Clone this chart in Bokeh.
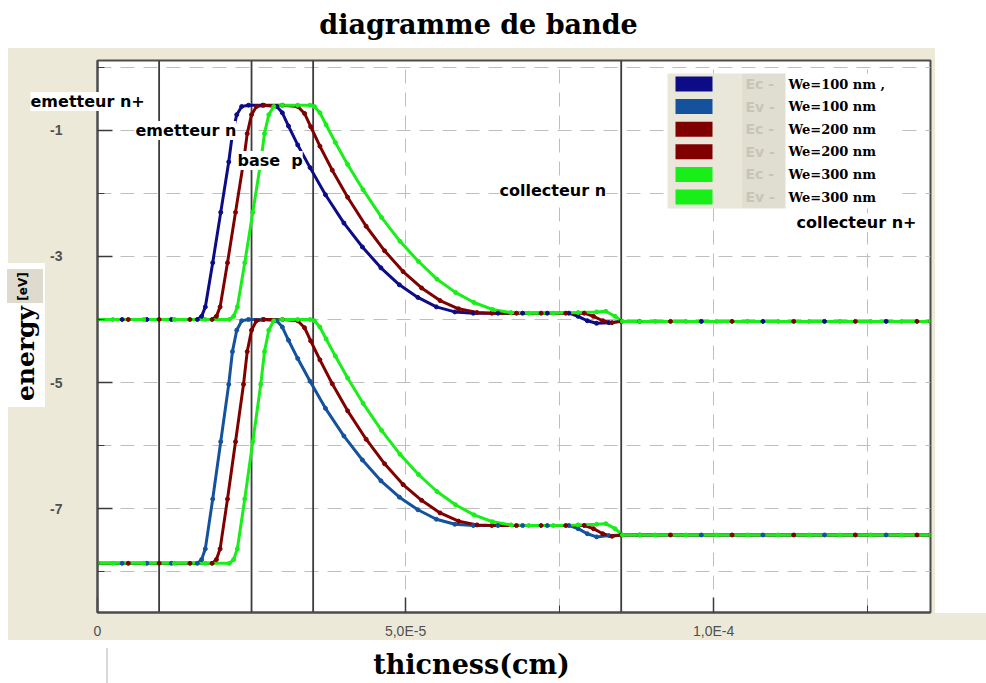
import numpy as np
from bokeh.plotting import figure
from bokeh.models import Range1d, FixedTicker, Span, Label, BoxAnnotation
from bokeh.embed import file_html
from bokeh.resources import INLINE

# ---------------- data ----------------
# thickness in nm (converted to cm for the axis), energies in eV
NM_TO_CM = 1e-7

region_bounds_nm = [100, 250, 350, 850]

x_ec_100 = [0, 40, 80, 120, 162, 169, 175, 187, 200, 213, 219, 226, 234, 245, 268,
            291, 300, 310, 325, 345, 370, 400, 430, 460, 490, 520, 550, 580, 610, 650,
            690, 730, 765, 780, 795, 810, 830, 850, 880, 980, 1080, 1180, 1280, 1352]
y_ec_100 = [-4.0, -4.0, -4.0, -4.0, -4.0, -3.95, -3.80, -3.10, -2.30, -1.50,
            -1.05, -0.75, -0.62, -0.60, -0.60, -0.62, -0.72, -0.93, -1.23, -1.59,
            -2.02, -2.47, -2.85, -3.18, -3.45, -3.65, -3.80, -3.88, -3.90, -3.90,
            -3.90, -3.90, -3.90, -3.95, -4.02, -4.06, -4.05, -4.03, -4.03, -4.03,
            -4.03, -4.03, -4.03, -4.03]
y_ev_100 = [-7.87, -7.87, -7.87, -7.87, -7.87, -7.81, -7.64, -6.85, -5.94, -5.03,
            -4.51, -4.17, -4.02, -4.00, -4.00, -4.02, -4.12, -4.33, -4.62, -4.98,
            -5.41, -5.85, -6.23, -6.56, -6.82, -7.02, -7.17, -7.25, -7.27, -7.27,
            -7.27, -7.27, -7.27, -7.32, -7.40, -7.45, -7.43, -7.42, -7.42, -7.42,
            -7.42, -7.42, -7.42, -7.42]

x_ec_200 = [0, 50, 100, 150, 186, 193, 199, 211, 224, 237, 243, 250, 258, 270, 300,
            325, 336, 346, 361, 381, 406, 436, 466, 496, 526, 556, 586, 616, 640, 680,
            720, 760, 790, 805, 820, 835, 850, 930, 1030, 1130, 1230, 1330, 1352]
y_ec_200 = [-4.0, -4.0, -4.0, -4.0, -4.0, -3.95, -3.80, -3.10, -2.30, -1.50,
            -1.05, -0.75, -0.62, -0.60, -0.60, -0.62, -0.73, -0.94, -1.25, -1.63,
            -2.06, -2.52, -2.91, -3.24, -3.50, -3.70, -3.83, -3.89, -3.90, -3.90,
            -3.90, -3.90, -3.90, -3.95, -4.02, -4.05, -4.03, -4.03, -4.03, -4.03,
            -4.03, -4.03, -4.03]
y_ev_200 = [-7.87, -7.87, -7.87, -7.87, -7.87, -7.81, -7.64, -6.85, -5.94, -5.03,
            -4.51, -4.17, -4.02, -4.00, -4.00, -4.02, -4.13, -4.34, -4.64, -5.02,
            -5.45, -5.90, -6.29, -6.62, -6.87, -7.07, -7.20, -7.26, -7.27, -7.27,
            -7.27, -7.27, -7.27, -7.32, -7.40, -7.44, -7.42, -7.42, -7.42, -7.42,
            -7.42, -7.42, -7.42]

x_ec_300 = [0, 25, 75, 125, 175, 214, 221, 227, 239, 252, 265, 271, 278, 286, 300,
            325, 345, 352, 361, 371, 386, 406, 431, 461, 491, 521, 551, 581, 611, 641,
            671, 700, 740, 780, 810, 825, 840, 852, 880, 905, 955, 1005, 1055, 1105,
            1155, 1205, 1255, 1305, 1352]
y_ec_300 = [-4.0, -4.0, -4.0, -4.0, -4.0, -4.0, -3.95, -3.80, -3.10, -2.30,
            -1.50, -1.05, -0.75, -0.62, -0.60, -0.60, -0.60, -0.62, -0.72, -0.91,
            -1.19, -1.54, -1.94, -2.38, -2.76, -3.08, -3.36, -3.57, -3.73, -3.84,
            -3.89, -3.90, -3.90, -3.89, -3.88, -3.87, -3.95, -4.03, -4.03, -4.03,
            -4.03, -4.03, -4.03, -4.03, -4.03, -4.03, -4.03, -4.03, -4.03]
y_ev_300 = [-7.87, -7.87, -7.87, -7.87, -7.87, -7.87, -7.81, -7.64, -6.85, -5.94,
            -5.03, -4.51, -4.17, -4.02, -4.00, -4.00, -4.00, -4.02, -4.12, -4.31,
            -4.58, -4.93, -5.33, -5.76, -6.14, -6.46, -6.73, -6.94, -7.10, -7.21,
            -7.26, -7.27, -7.27, -7.26, -7.25, -7.24, -7.32, -7.42, -7.42, -7.42,
            -7.42, -7.42, -7.42, -7.42, -7.42, -7.42, -7.42, -7.42, -7.42]

legend_band = ["Ec -", "Ev -", "Ec -", "Ev -", "Ec -", "Ev -"]
legend_width = ["We=100 nm ,", "We=100 nm", "We=200 nm", "We=200 nm", "We=300 nm", "We=300 nm"]

x_tick_values = [0, 5e-5, 1e-4]
x_tick_labels = ["0", "5,0E-5", "1,0E-4"]
x_minor_values = [2.5e-5, 7.5e-5, 1.25e-4]
y_tick_values = [-1, -3, -5, -7]
y_tick_labels = ["-1", "-3", "-5", "-7"]
y_minor_values = [0, -2, -4, -6, -8]

# ---------------- styling ----------------
BEIGE = "#ECE9D8"
COLORS = ["#0C0C86", "#15529E", "#800000", "#800000", "#18EE18", "#18EE18"]

series = [
    (x_ec_100, y_ec_100), (x_ec_100, y_ev_100),
    (x_ec_200, y_ec_200), (x_ec_200, y_ev_200),
    (x_ec_300, y_ec_300), (x_ec_300, y_ev_300),
]


def css_block(color, x, y, w, h):
    return f"linear-gradient({color},{color}) {x}px {y}px / {w}px {h}px no-repeat"


# panel shading behind the transparent border of the figure
page_background = ", ".join([
    css_block("#DEDBCE", 7, 269, 36, 34),    # unit box of the y label
    css_block("#FFFFFF", 7, 263, 38, 144),   # y label box
    css_block(BEIGE, 8, 48, 927, 592),       # main panel
    css_block(BEIGE, 935, 613, 51, 27),      # panel foot
    css_block("#D8D8D8", 106, 648, 2, 35),
    "#FFFFFF",
])

p = figure(width=986, height=683, output_backend="svg", toolbar_location=None,
           x_range=Range1d(0, 1352 * NM_TO_CM), y_range=Range1d(-8.65, 0.11),
           min_border_left=97, min_border_right=56, min_border_top=60,
           min_border_bottom=71, border_fill_color=None,
           background_fill_color="white", outline_line_color="#4d4d4d",
           outline_line_width=2)
p.styles = {"background": page_background}

# axes
for ax in (p.xaxis, p.yaxis):
    ax.axis_line_color = "#4d4d4d"
    ax.axis_line_width = 2
    ax.major_tick_in = 15
    ax.major_tick_out = 0
    ax.minor_tick_in = 7
    ax.minor_tick_out = 0
    ax.major_tick_line_color = "#3a3a3a"
    ax.minor_tick_line_color = "#3a3a3a"
    ax.major_tick_line_width = 1.5
    ax.major_label_text_font = "Liberation Sans"
    ax.major_label_text_font_size = "14px"
    ax.major_label_text_color = "#505050"

p.xaxis.ticker = FixedTicker(ticks=x_tick_values, minor_ticks=x_minor_values)
p.xaxis.major_label_overrides = dict(zip(x_tick_values, x_tick_labels))
p.xaxis.major_label_standoff = 10
p.yaxis.ticker = FixedTicker(ticks=y_tick_values, minor_ticks=y_minor_values)
p.yaxis.major_label_overrides = dict(zip(y_tick_values, y_tick_labels))
p.yaxis.major_label_standoff = 35
p.yaxis.major_label_text_font_style = "bold"

p.xgrid.ticker = FixedTicker(ticks=sorted(x_tick_values + x_minor_values))
p.ygrid.ticker = FixedTicker(ticks=sorted(y_tick_values + y_minor_values))
for g in (p.xgrid, p.ygrid):
    g.grid_line_color = "#BEBEBE"
    g.grid_line_dash = "14 9"
    g.grid_line_width = 1

# region boundaries
for b in region_bounds_nm:
    p.add_layout(Span(location=b * NM_TO_CM, dimension="height",
                      line_color="#3c3c3c", line_width=1.8, level="underlay"))

# band edges
for (xs, ys), c in zip(series, COLORS):
    p.line(np.array(xs) * NM_TO_CM, ys, line_color=c, line_width=3)
for (xs, ys), c in zip(series, COLORS):
    p.scatter(np.array(xs) * NM_TO_CM, ys, size=4, color=c)


def canvas_box(l, r, t, b, color, level="annotation"):
    p.add_layout(BoxAnnotation(left=l, right=r, top=t, bottom=b,
                               left_units="canvas", right_units="canvas",
                               top_units="canvas", bottom_units="canvas",
                               fill_color=color, fill_alpha=1.0,
                               line_color=None, level=level))


def canvas_text(text, x, y, size, font="DejaVu Sans", style="bold", color="black",
                align="left", bg=None, angle=0.0, place=None):
    lab = Label(x=x, y=y, x_units="canvas", y_units="canvas", text=text,
                text_font=font, text_font_size=f"{size}px",
                text_font_style=style, text_color=color, text_align=align,
                text_baseline="middle", background_fill_color=bg, angle=angle)
    if place is None:
        p.add_layout(lab)
    else:
        p.add_layout(lab, place)


# titles (kept in the side panels so they are not clipped to the frame)
canvas_text("diagramme de bande", 478, 24, 27, font="DejaVu Serif", align="center",
            place="above")
canvas_text("thicness(cm)", 471, 664, 27, font="DejaVu Serif", align="center",
            place="below")
canvas_text("energy", 25, 353, 25, font="DejaVu Serif", align="center",
            angle=np.pi / 2, place="left")
canvas_text("[eV]", 22, 286, 12, align="center", angle=np.pi / 2, place="right")

# region names
canvas_text("emetteur n+", 30, 101, 16, bg="white", place="above")
canvas_text("emetteur n", 135, 130, 16, bg="white")
canvas_text("base\u00a0\u00a0p", 237, 160, 16, bg="white")
canvas_text("collecteur n", 499, 190, 16, bg="white")
canvas_text("collecteur n+", 796, 222, 16, bg="white")

# legend
canvas_box(785, 895, 73, 208, "white")
canvas_box(667, 741, 73, 208, "#E9E6DA")
canvas_box(741, 785, 73, 208, "#E0DDD1")
for i, (band, wtxt, c) in enumerate(zip(legend_band, legend_width, COLORS)):
    yc = 83.5 + 22.6 * i
    canvas_box(675, 712, yc - 7.5, yc + 7.5, c)
    canvas_text(band, 745, yc, 14, color="#C8C4B6")
    canvas_text(wtxt, 788, yc, 13, font="DejaVu Serif")

open("out.html", "w").write(file_html(p, INLINE))
